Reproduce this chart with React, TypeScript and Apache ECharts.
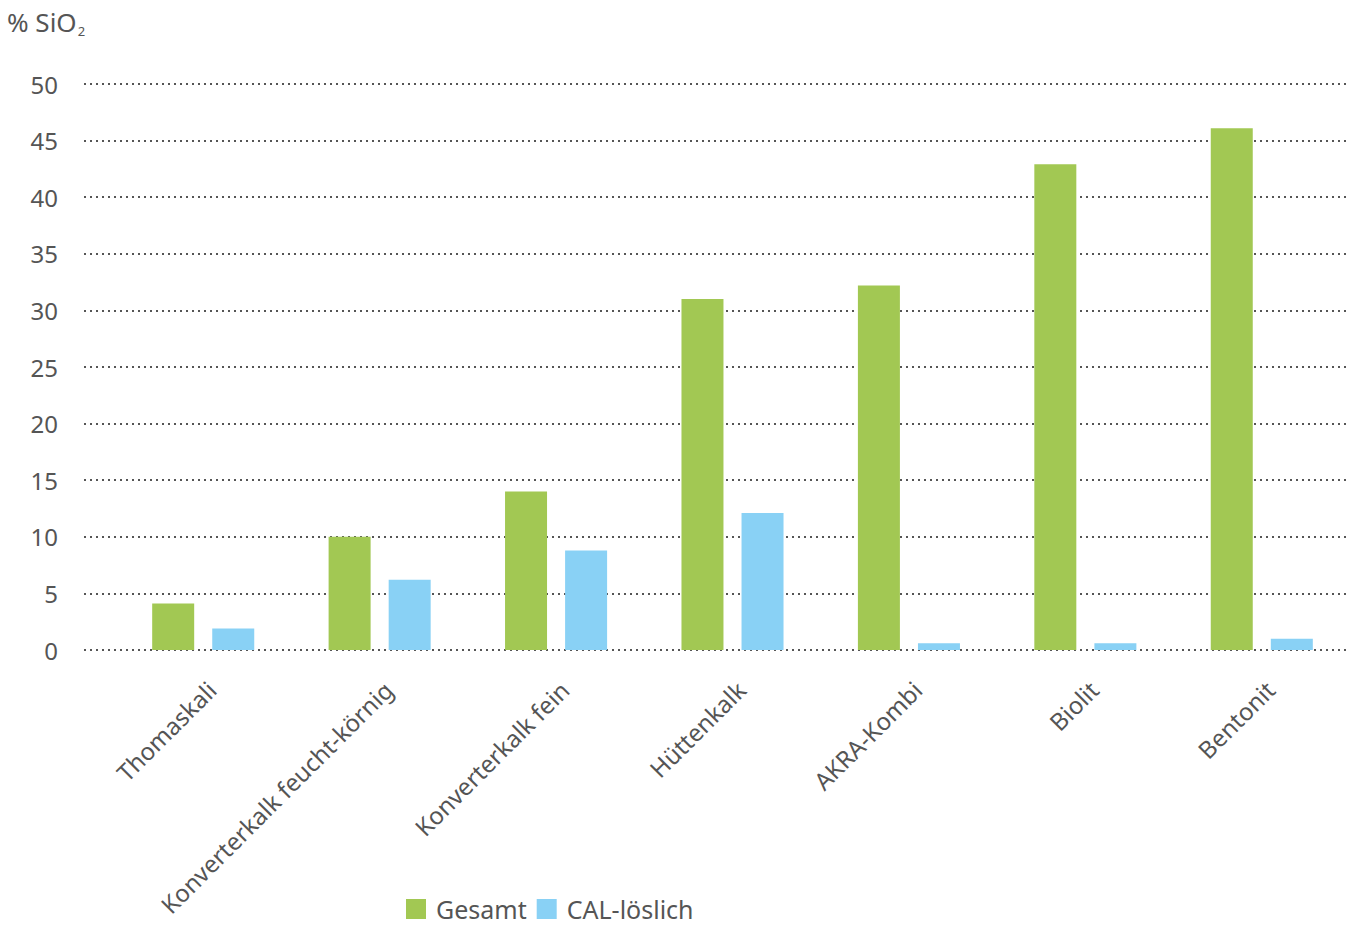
import React, { useEffect, useRef } from "react";
import * as echarts from "echarts";

const categories = [
  "Thomaskali",
  "Konverterkalk feucht-körnig",
  "Konverterkalk fein",
  "Hüttenkalk",
  "AKRA-Kombi",
  "Biolit",
  "Bentonit",
];
const gesamt = [4.1, 10, 14, 31, 32.2, 42.9, 46.1];
const calLoeslich = [1.9, 6.2, 8.8, 12.1, 0.6, 0.6, 1.0];
const seriesNames = ["Gesamt", "CAL-löslich"];

const FONT = "'Noto Sans', sans-serif";
const TEXT = "#555555";

export default function App() {
  const ref = useRef<HTMLDivElement>(null);
  useEffect(() => {
    if (!ref.current) return;
    const chart = echarts.init(ref.current, null, { renderer: "svg" });
    chart.setOption({
      animation: false,
      textStyle: { fontFamily: FONT, color: TEXT },
      title: {
        left: 2,
        top: 1,
        text: "% SiO{sub|2}",
        textStyle: {
          fontFamily: FONT,
          fontSize: 26,
          fontWeight: "normal",
          color: TEXT,
          rich: {
            sub: { fontSize: 13, color: TEXT, fontFamily: FONT, padding: [18, 0, 0, 1] },
          },
        },
      },
      legend: {
        left: 406,
        top: 895,
        padding: 0,
        itemWidth: 20,
        itemHeight: 20,
        itemGap: 10,
        icon: "rect",
        textStyle: {
          fontFamily: FONT,
          fontSize: 25,
          lineHeight: 28,
          color: TEXT,
          padding: [0, 0, 0, 5],
        },
        data: seriesNames,
      },
      grid: [
        { left: 84, right: 8, top: 84, bottom: 277 },
        { left: 115, right: 8, top: 84, bottom: 277 },
      ],
      xAxis: [
        { type: "category", gridIndex: 0, data: categories, show: false },
        {
          type: "category",
          gridIndex: 1,
          data: categories,
          axisLine: { show: false },
          axisTick: { show: false },
          axisLabel: {
            rotate: 45,
            interval: 0,
            margin: 27,
            fontSize: 24,
            verticalAlign: "top",
            color: TEXT,
            fontFamily: FONT,
          },
        },
      ],
      yAxis: [
        {
          type: "value",
          gridIndex: 0,
          min: 0,
          max: 50,
          interval: 5,
          axisLine: { show: false },
          axisTick: { show: false },
          axisLabel: { fontSize: 24, color: TEXT, margin: 26, fontFamily: FONT },
          splitLine: {
            lineStyle: { color: "#555555", width: 2, type: [2, 4] },
          },
        },
        {
          type: "value",
          gridIndex: 1,
          min: 0,
          max: 50,
          interval: 5,
          show: false,
          splitLine: { show: false },
        },
      ],
      series: [
        {
          name: seriesNames[0],
          type: "bar",
          xAxisIndex: 1,
          yAxisIndex: 1,
          data: gesamt,
          barWidth: 42,
          barGap: "43%",
          itemStyle: { color: "#a2c853" },
        },
        {
          name: seriesNames[1],
          type: "bar",
          xAxisIndex: 1,
          yAxisIndex: 1,
          data: calLoeslich,
          barWidth: 42,
          barGap: "43%",
          itemStyle: { color: "#89d1f5" },
        },
      ],
    });
    return () => chart.dispose();
  }, []);
  return (
    <div
      ref={ref}
      style={{ position: "absolute", left: 0, top: 0, width: 1358, height: 927, background: "#fff" }}
    />
  );
}
